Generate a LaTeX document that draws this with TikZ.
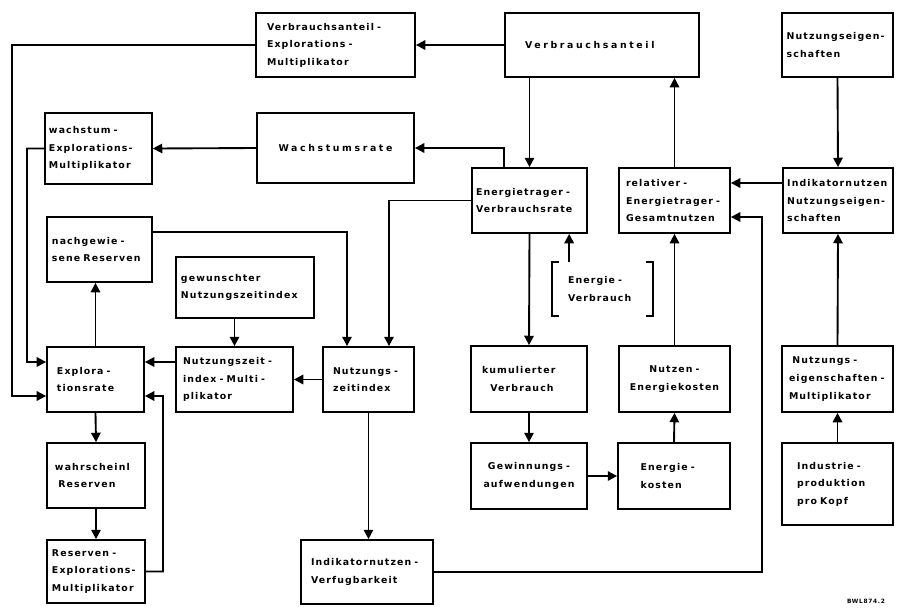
\documentclass[tikz,border=0pt]{standalone}
\usepackage{fontspec}
\setmainfont{DejaVu Sans}[LetterSpace=12]
\usetikzlibrary{arrows.meta}

\tikzset{
  blk/.style={draw, line width=1.5pt, inner sep=0pt, text width=#1, align=left,
    font=\bfseries\fontsize{8pt}{15pt}\selectfont},
  sz/.style 2 args={minimum width=#1, minimum height=#2},
  wide/.style={font=\bfseries\fontsize{8pt}{15pt}\selectfont\addfontfeatures{LetterSpace=28}},
  arr/.style={-{Triangle[length=8pt,width=8pt]}, line width=1.6pt},
  lin/.style={line width=1.6pt},
}

\begin{document}
\begin{tikzpicture}[x=0.03cm,y=-0.03cm]
        \useasboundingbox (0,0) rectangle (899,607);
        % boxes, top rows
        \node[blk=4.11cm, sz={4.77cm}{1.92cm}] (vem) at (335.5,45) {Verbrauchsanteil -\\Explorations -\\Multiplikator};
        \node[blk=4.62cm, sz={5.82cm}{1.92cm}, wide] (va) at (602,45) {Verbrauchsanteil};
        \node[blk=3.05cm, sz={3.33cm}{1.92cm}] (ne) at (837.5,45) {Nutzungseigen-\\schaften};
        \node[blk=2.97cm, sz={3.21cm}{2.13cm}] (wem) at (98.5,148.5) {wachstum -\\Explorations-\\Multiplikator};
        \node[blk=4cm, sz={4.71cm}{2.1cm}, align=center, wide] (wr) at (335.5,148) {Wachstumsrate};
        \node[blk=3.21cm, sz={3.45cm}{1.95cm}] (evr) at (529.5,200.5) {Energietrager -\\Verbrauchsrate};
        \node[blk=2.91cm, sz={3.33cm}{1.95cm}] (reg) at (674.5,200.5) {relativer -\\Energietrager -\\Gesamtnutzen};
        \node[blk=3.05cm, sz={3.3cm}{1.95cm}] (ine) at (838,200.5) {Indikatornutzen\\Nutzungseigen-\\schaften};
        % bracket, no frame
        \node[blk=2.07cm, sz={2.97cm}{1.56cm}, draw=none] (ev) at (602.5,289) {Energie -\\Verbrauch};
        \node[blk=2.85cm, sz={3.15cm}{1.95cm}] (nr) at (99.5,249.5) {nachgewie -\\sene Reserven};
        \node[blk=3.84cm, sz={4.14cm}{1.83cm}] (gnz) at (245,287.5) {gewunschter\\Nutzungszeitindex};
        % middle row
        \node[blk=2.31cm, sz={2.91cm}{1.95cm}] (er) at (95.5,379.5) {Explora -\\tionsrate};
        \node[blk=3.09cm, sz={3.51cm}{1.95cm}] (nzm) at (234.5,379.5) {Nutzungszeit -\\index - Multi -\\plikator};
        \node[blk=2.13cm, sz={2.73cm}{1.95cm}] (nzi) at (368.5,379.5) {Nutzungs -\\zeitindex};
        \node[blk=2.82cm, sz={3.48cm}{1.98cm}] (kv) at (529,379) {kumulierter\\\hspace*{0.25cm}Verbrauch};
        \node[blk=3.1cm, sz={3.33cm}{1.98cm}, align=center] (nek) at (674.5,379) {Nutzen -\\Energiekosten};
        \node[blk=2.91cm, sz={3.33cm}{1.98cm}] (nem) at (837.5,379) {\hspace*{0.1cm}Nutzungs -\\eigenschaften -\\Multiplikator};
        % bottom rows
        \node[blk=2.46cm, sz={2.94cm}{1.95cm}] (wres) at (96,475.5) {wahrscheinl\\\hspace*{0.1cm}Reserven};
        \node[blk=3.3cm, sz={3.48cm}{1.98cm}, align=center] (ga) at (529,476) {Gewinnungs -\\aufwendungen};
        \node[blk=2cm, sz={3.36cm}{1.98cm}] (ek) at (674,476) {Energie -\\kosten};
        \node[blk=2.43cm, sz={3.33cm}{2.46cm}] (ipk) at (837.5,484) {Industrie -\\produktion\\pro Kopf};
        \node[blk=2.64cm, sz={2.94cm}{1.89cm}] (rem) at (96,571.5) {Reserven -\\Explorations-\\Multiplikator};
        \node[blk=3.36cm, sz={3.96cm}{1.92cm}] (iv) at (367,572) {Indikatornutzen -\\Verfugbarkeit};
        \node[font=\bfseries\fontsize{5pt}{6pt}\selectfont, inner sep=0pt] (lbl) at (866,601) {BWL874.2};

        % brackets round Energie-Verbrauch
        \draw[lin] ([xshift=0.2cm]ev.north west) -- (ev.north west) -- (ev.south west) -- ++(7,0);
        \draw[lin] ([xshift=-0.2cm]ev.north east) -- (ev.north east) -- (ev.south east) -- ++(-7,0);

        % left loop
        \draw[arr] (va.west) -- (vem.east);
        \draw[arr] (vem.west) -| (12,396) -- ([yshift=-0.495cm]er.west);
        \draw[arr] (wr.west) -- (wem.east);
        \draw[arr] (wem.west) -| (27,362) -- ([yshift=0.525cm]er.west);
        \draw[arr] ([yshift=0.525cm]nzm.west) -- ([yshift=0.525cm]er.east);
        \draw[arr] (rem.east) -| (163,396) -- ([yshift=-0.495cm]er.east);
        \draw[arr] (er.north) -- (er.north |- nr.south);
        \draw[arr] (er.south) -- (wres.north);
        \draw[arr] (wres.south) -- (rem.north);
        \draw[arr] (gnz.south -| nzm.north) -- (nzm.north);
        \draw[arr] (nzi.west) -- (nzm.east);
        \draw[arr] ([yshift=0.525cm]nr.east) -| ([xshift=-0.645cm]nzi.north);
        \draw[arr] (evr.west) -| ([xshift=0.615cm]nzi.north);
        \draw[arr] (nzi.south) -- (nzi.south |- iv.north);

        % middle and right
        \draw[arr] ([xshift=-0.765cm]evr.north) |- (wr.east);
        \draw[arr] (evr.north |- va.south) -- (evr.north);
        \draw[arr] ([xshift=-1cm]ev.north) -- ([xshift=-1cm]ev.north |- evr.south);
        \draw[arr] (evr.south) -- (kv.north);
        \draw[arr] (kv.south) -- (ga.north);
        \draw[arr] (ga.east) -- (ek.west);
        \draw[arr] (ek.north) -- (nek.south);
        \draw[arr] (nek.north) -- (reg.south);
        \draw[arr] (reg.north) -- (reg.north |- va.south);
        \draw[arr] (iv.east) -| (762,217) -- ([yshift=-0.495cm]reg.east);
        \draw[arr] ([yshift=0.525cm]ine.west) -- ([yshift=0.525cm]reg.east);
        \draw[arr] (ne.south) -- (ine.north);
        \draw[arr] (nem.north) -- (ine.south);
        \draw[arr] (ipk.north) -- (nem.south);
      \end{tikzpicture}
\end{document}
